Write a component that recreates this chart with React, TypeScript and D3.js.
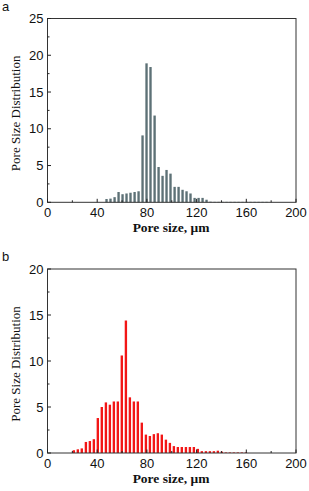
import React from "react";
import * as d3 from "d3";

const binsA = [47.5, 50.7, 54.0, 57.2, 60.4, 63.6, 66.8, 70.1, 73.3, 76.5, 79.7, 82.9, 86.2, 89.4, 92.6, 95.8, 99.0, 102.3, 105.5, 108.7, 111.9, 115.1, 118.4, 121.6, 124.8, 128.0, 131.2, 134.5, 137.7, 140.9, 144.1, 147.3, 150.6, 153.8, 157.0, 160.2, 163.4, 166.7, 169.9, 173.1, 176.3];
const valuesA = [0.45, 0.5, 0.7, 1.4, 1.1, 1.2, 1.3, 1.4, 1.5, 9.1, 18.9, 18.4, 11.8, 4.8, 3.6, 4.4, 3.9, 2.1, 2.1, 1.7, 1.5, 1.2, 0.6, 0.6, 0.6, 0.35, 0.08, 0.06, 0.06, 0.06, 0.06, 0.06, 0.06, 0.06, 0.06, 0.06, 0.06, 0.06, 0.06, 0.06, 0.06];

const binsB = [21.2, 24.4, 27.6, 30.9, 34.1, 37.3, 40.5, 43.7, 47.0, 50.2, 53.4, 56.6, 59.8, 63.1, 66.3, 69.5, 72.7, 75.9, 79.2, 82.4, 85.6, 88.8, 92.0, 95.3, 98.5, 101.7, 104.9, 108.1, 111.4, 114.6, 117.8, 121.0, 124.2, 127.5, 130.7, 133.9, 137.1, 140.3, 143.6, 146.8, 150.0, 153.2, 156.4, 159.7];
const valuesB = [0.3, 0.4, 0.5, 1.2, 1.3, 1.5, 3.8, 5.0, 5.5, 5.25, 5.6, 5.6, 10.6, 14.4, 6.05, 5.6, 5.6, 3.3, 2.0, 1.85, 2.05, 2.15, 2.0, 1.45, 1.1, 0.75, 0.65, 0.65, 0.65, 0.65, 0.65, 0.45, 0.2, 0.2, 0.2, 0.2, 0.25, 0.15, 0.06, 0.06, 0.06, 0.06, 0.06, 0.06];

const xTicks = [0, 40, 80, 120, 160, 200];
const xMinor = [20, 60, 100, 140, 180];
const yTicksA = [0, 5, 10, 15, 20, 25];
const yTicksB = [0, 5, 10, 15, 20];

const W = 309;
const H = 491;

type PanelProps = {
  label: string;
  top: number;
  bottom: number;
  yMax: number;
  yTicks: number[];
  bins: number[];
  values: number[];
  color: string;
};

function Panel({ label, top, bottom, yMax, yTicks, bins, values, color }: PanelProps) {
  const left = 47.5;
  const right = 296;
  const x = d3.scaleLinear().domain([0, 200]).range([left, right]);
  const y = d3.scaleLinear().domain([0, yMax]).range([bottom, top]);
  const barW = x(1.9) - x(0);
  const yMinor = yTicks.slice(0, -1).map((t) => t + 2.5);
  const sans = "'Liberation Sans', Arial, sans-serif";
  const serif = "'Liberation Serif', 'Times New Roman', serif";
  return (
    <g>
      <text x={2} y={top - 8} fontFamily={sans} fontSize={13} fill="#111">
        {label}
      </text>
      {bins.map((b, i) => (
        <rect
          key={i}
          x={x(b) - barW / 2}
          y={y(values[i])}
          width={barW}
          height={y(0) - y(values[i])}
          fill={color}
        />
      ))}
      <rect x={left} y={top} width={right - left} height={bottom - top} fill="none" stroke="#333" strokeWidth={1} />
      {xTicks.map((t) => (
        <g key={"xt" + t}>
          <line x1={x(t)} x2={x(t)} y1={bottom} y2={bottom - 3.5} stroke="#222" strokeWidth={1} />
          <text x={x(t)} y={bottom + 15} textAnchor="middle" fontFamily={sans} fontSize={13} fill="#111">
            {t}
          </text>
        </g>
      ))}
      {xMinor.map((t) => (
        <line key={"xm" + t} x1={x(t)} x2={x(t)} y1={bottom} y2={bottom - 2} stroke="#222" strokeWidth={1} />
      ))}
      {yTicks.map((t) => (
        <g key={"yt" + t}>
          <line x1={left} x2={left + 3.5} y1={y(t)} y2={y(t)} stroke="#222" strokeWidth={1} />
          <text x={left - 4} y={y(t) + 4.5} textAnchor="end" fontFamily={sans} fontSize={13} fill="#111">
            {t}
          </text>
        </g>
      ))}
      {yMinor.map((t) => (
        <line key={"ym" + t} x1={left} x2={left + 2} y1={y(t)} y2={y(t)} stroke="#222" strokeWidth={1} />
      ))}
      <text x={171} y={bottom + 30} textAnchor="middle" fontFamily={serif} fontWeight="bold" fontSize={13.5} fill="#111">
        Pore size, μm
      </text>
      <text
        transform={`translate(20,${(top + bottom) / 2 + 3}) rotate(-90)`}
        textAnchor="middle"
        fontFamily={serif}
        fontSize={13}
        fill="#111"
      >
        Pore Size Distribution
      </text>
    </g>
  );
}

export default function App() {
  return (
    <svg width={W} height={H} style={{ position: "absolute", left: 0, top: 0, background: "#fff" }}>
      <Panel label="a" top={18.5} bottom={202.3} yMax={25} yTicks={yTicksA} bins={binsA} values={valuesA} color="#5d7176" />
      <Panel label="b" top={269} bottom={453} yMax={20} yTicks={yTicksB} bins={binsB} values={valuesB} color="#f21616" />
    </svg>
  );
}
